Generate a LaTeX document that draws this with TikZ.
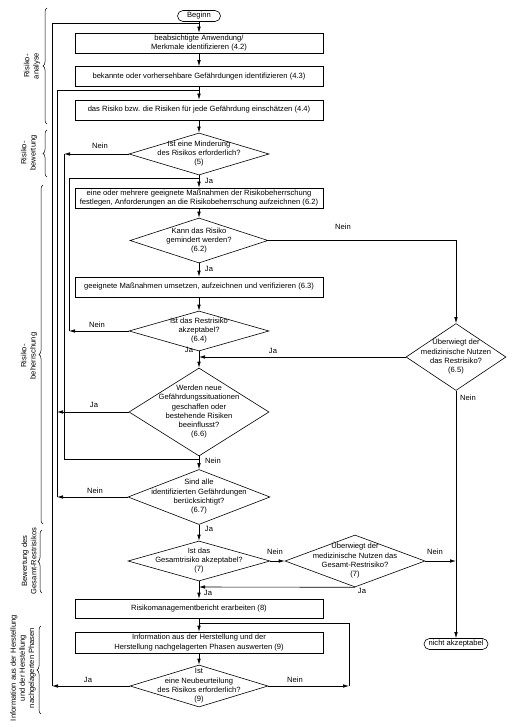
\documentclass[tikz,border=0pt]{standalone}
\usepackage{fontspec}
\setmainfont{Liberation Sans}
\usetikzlibrary{shapes.geometric,arrows.meta,decorations.pathreplacing}
\newcommand{\dtxt}[1]{\smash{\makebox[0pt]{\raisebox{-1.9pt}{\begin{tabular}[c]{@{}c@{}}#1\end{tabular}}}}}
\begin{document}
\begin{tikzpicture}[x=1pt,y=-1pt,
  font=\fontsize{7.6}{9.2}\selectfont,
  line width=0.6pt,
  box/.style={draw, rectangle, minimum width=248pt, minimum height=20pt, inner sep=1pt, align=center},
  dia/.style={draw, diamond, inner sep=0pt},
  term/.style={draw, rounded corners=5.5pt, minimum height=11pt, inner sep=1pt},
  arr/.style={-{Latex[length=6pt,width=3.5pt]}},
  lbl/.style={inner sep=0pt},
  brc/.style={decorate, decoration={brace, amplitude=4pt}, line width=0.5pt},
  side/.style={rotate=90, align=center, inner sep=0pt}
]
\useasboundingbox (0,0) rectangle (511,727);

% ---------- main column ----------
\node[term, minimum width=43pt] (beg) at (199,16) {Beginn};
\node[box] (b42) at (199,43) {beabsichtigte Anwendung/\\Merkmale identifizieren (4.2)};
\node[box] (b43) at (199,76.5) {bekannte oder vorhersehbare Gefährdungen identifizieren (4.3)};
\node[box] (b44) at (199,110) {das Risiko bzw. die Risiken für jede Gefährdung einschätzen (4.4)};
\node[dia, minimum width=140pt, minimum height=42pt] (d5) at (199,154) {\dtxt{Ist eine Minderung\\des Risikos erforderlich?\\(5)}};
\node[box] (b62) at (199,198) {eine oder mehrere geeignete Maßnahmen der Risikobeherrschung\\festlegen, Anforderungen an die Risikobeherrschung aufzeichnen (6.2)};
\node[dia, minimum width=138pt, minimum height=45pt] (d62) at (199,240.5) {\dtxt{Kann das Risiko\\gemindert werden?\\(6.2)}};
\node[box] (b63) at (199,287) {geeignete Maßnahmen umsetzen, aufzeichnen und verifizieren (6.3)};
\node[dia, minimum width=140pt, minimum height=40pt] (d64) at (199,331) {\dtxt{Ist das Restrisiko\\akzeptabel?\\(6.4)}};
\node[dia, minimum width=140pt, minimum height=88pt] (d66) at (199,412) {\dtxt{Werden neue\\Gefährdungssituationen\\geschaffen oder\\bestehende Risiken\\beeinflusst?\\(6.6)}};
\node[dia, minimum width=142pt, minimum height=55pt] (d67) at (199,497) {\dtxt{Sind alle\\identifizierten Gefährdungen\\berücksichtigt?\\(6.7)}};
\node[dia, minimum width=142pt, minimum height=40pt] (d7) at (199,561) {\dtxt{Ist das\\Gesamtrisiko akzeptabel?\\(7)}};
\node[dia, minimum width=140pt, minimum height=52pt] (d7b) at (355,561) {\dtxt{Überwiegt der\\medizinische Nutzen das\\Gesamt-Restrisiko?\\(7)}};
\node[box, minimum height=19pt] (b8) at (199,608.5) {Risikomanagementbericht erarbeiten (8)};
\node[box, minimum height=21pt] (b9) at (199,642.5) {Information aus der Herstellung und der\\Herstellung nachgelagerten Phasen auswerten (9)};
\node[dia, minimum width=138pt, minimum height=42pt] (d9) at (199,686) {\dtxt{Ist\\eine Neubeurteilung\\des Risikos erforderlich?\\(9)}};

% ---------- right column ----------
\node[dia, minimum width=100pt, minimum height=67pt] (d65) at (456,357) {\dtxt{Überwiegt der\\medizinische Nutzen\\das Restrisiko?\\(6.5)}};
\node[term, minimum width=64pt] (nak) at (456,644) {nicht akzeptabel};

% ---------- junctions and loop columns ----------
\coordinate (j0) at (199,23);
\coordinate (j1) at (199,90);
\coordinate (j2) at (199,178);
\coordinate (j3) at (199,357);
\coordinate (j4) at (199,459);
\coordinate (j5) at (199,587);
\coordinate (j6) at (199,623);
\coordinate (xA) at (52,0);
\coordinate (xB) at (57,0);
\coordinate (xC) at (64,0);
\coordinate (xD) at (69,0);
\coordinate (xR) at (349,0);

% ---------- main flow ----------
\draw[arr] (beg) -- (b42);
\draw[arr] (b42) -- (b43);
\draw[arr] (b43) -- (b44);
\draw[arr] (b44) -- (d5);
\draw[arr] (d5.south) -- (b62.north);
\draw[arr] (b62) -- (d62.north);
\draw[arr] (d62.south) -- (b63.north);
\draw[arr] (b63) -- (d64.north);
\draw[arr] (d64.south) -- (d66.north);
\draw[arr] (d66.south) -- (d67.north);
\draw[arr] (d67.south) -- (d7.north);
\draw[arr] (d7.south) -- (b8.north);
\draw[arr] (b8) -- (b9);
\draw[arr] (b9) -- (d9.north);

% ---------- loops back ----------
\draw[arr] (d9.west) -- (d9.west -| xA);
\draw (d9.west -| xA) |- (j0);
\draw[arr] (d5.west) -- (d5.west -| xC);
\draw (d5.west -| xC) |- (j4);
\draw[arr] (d64.west) -- (d64.west -| xD);
\draw (d64.west -| xD) |- (j2);
\draw[arr] (d66.west) -- (d66.west -| xB);
\draw (d66.west -| xB) |- (j1);
\draw[arr] (d67.west) -- (d67.west -| xB);
\draw (d67.west -| xB) -- (d66.west -| xB);
\draw[arr] (d9.east) -- (d9.east -| xR);
\draw (d9.east -| xR) |- (j6);

% ---------- right branches ----------
\draw[arr] (d62.east) -| (d65.north);
\draw[arr] (d65.west) -- (j3);
\draw[arr] (d65.south) -- (nak.north);
\draw[arr] (d7.east) -- (d7b.west);
\draw[arr] (d7b.east) -- (d7b.east -| d65.south);
\draw[arr] (d7b.south) -- (j5);

% ---------- labels ----------
\node[lbl] (l1) at (100,146) {Nein};
\node[lbl] (l2) at (209,181) {Ja};
\node[lbl] (l3) at (343,227) {Nein};
\node[lbl] (l4) at (209,269) {Ja};
\node[lbl] (l5) at (97,325) {Nein};
\node[lbl] (l6) at (189,350) {Ja};
\node[lbl] (l7) at (273,351) {Ja};
\node[lbl] (l8) at (468,398) {Nein};
\node[lbl] (l9) at (94,405) {Ja};
\node[lbl] (l10) at (213,461) {Nein};
\node[lbl] (l11) at (95,491) {Nein};
\node[lbl] (l12) at (209,529) {Ja};
\node[lbl] (l13) at (275,552) {Nein};
\node[lbl] (l14) at (435,552) {Nein};
\node[lbl] (l15) at (362,591) {Ja};
\node[lbl] (l16) at (208,593) {Ja};
\node[lbl] (l17) at (88,680) {Ja};
\node[lbl] (l18) at (295,680) {Nein};

% ---------- phase braces ----------
\draw[brc] (47,124) -- (47,8);
\node[side] (s1) at (32,66) {Risiko-\\analyse};
\draw[brc] (47,177) -- (47,130);
\node[side] (s2) at (29,153) {Risiko-\\bewertung};
\draw[brc] (43,524) -- (43,185);
\node[side] (s3) at (29,356) {Risiko-\\beherrschung};
\draw[brc] (42,593) -- (42,530);
\node[side] (s4) at (29,561) {Bewertung des\\Gesamt-Restrisikos};
\draw[brc] (41,714) -- (41,626);
\node[side] (s5) at (23,668) {Information aus der Herstellung\\und der Herstellung\\nachgelagerten Phasen};
\end{tikzpicture}
\end{document}
